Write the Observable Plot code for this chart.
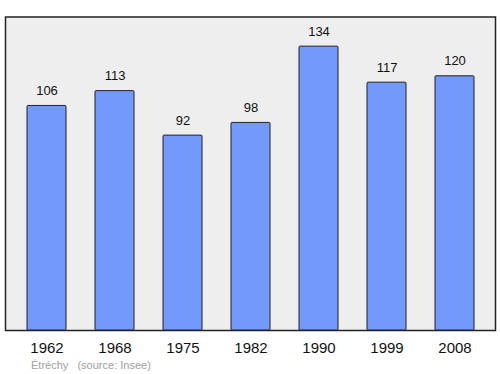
<!DOCTYPE html>
<html>
<head>
<meta charset="utf-8">
<script src="https://cdn.jsdelivr.net/npm/d3@7"></script>
<script src="https://cdn.jsdelivr.net/npm/@observablehq/plot@0.6"></script>
<style>
  body { margin: 0; background: #fff; font-family: "Liberation Sans", Arial, sans-serif; }
  #caption { font-size: 11px; color: #a0a0a0; padding-left: 31px; padding-top: 3px; height: 16px; line-height: 14px; white-space: pre; }
</style>
</head>
<body>
<div id="chart"></div>
<div id="caption"></div>
<script>
const years = ["1962", "1968", "1975", "1982", "1990", "1999", "2008"];
const population = [106, 113, 92, 98, 134, 117, 120];
const captionPlace = "Étréchy";
const captionSource = "(source: Insee)";

const data = years.map((y, i) => ({year: y, value: population[i]}));

const chart = Plot.plot({
  width: 500,
  height: 355,
  marginLeft: 5,
  marginRight: 5,
  marginTop: 16.5,
  marginBottom: 25,
  style: {fontFamily: "Liberation Sans, Arial, sans-serif", background: "#fff"},
  x: {domain: years, range: [11.3, 489.7], paddingInner: 0.43, paddingOuter: 0.215, label: null},
  y: {domain: [0, 148], label: null, axis: null},
  marks: [
    Plot.frame({fill: "#eeeeee", stroke: "#222", strokeWidth: 1.5}),
    Plot.barY(data, {x: "year", y: "value", fill: "#7399ff", stroke: "#222", strokeWidth: 1, rx: 1}),
    Plot.text(data, {x: "year", y: "value", text: d => String(d.value), lineAnchor: "middle", dy: -15, fontSize: 13, fill: "#111"}),
    Plot.axisX({tickSize: 0, tickPadding: 11.5, fontSize: 15, color: "#111", label: null})
  ]
});
document.getElementById("chart").appendChild(chart);
document.getElementById("caption").textContent = captionPlace + "   " + captionSource;
</script>
</body>
</html>
